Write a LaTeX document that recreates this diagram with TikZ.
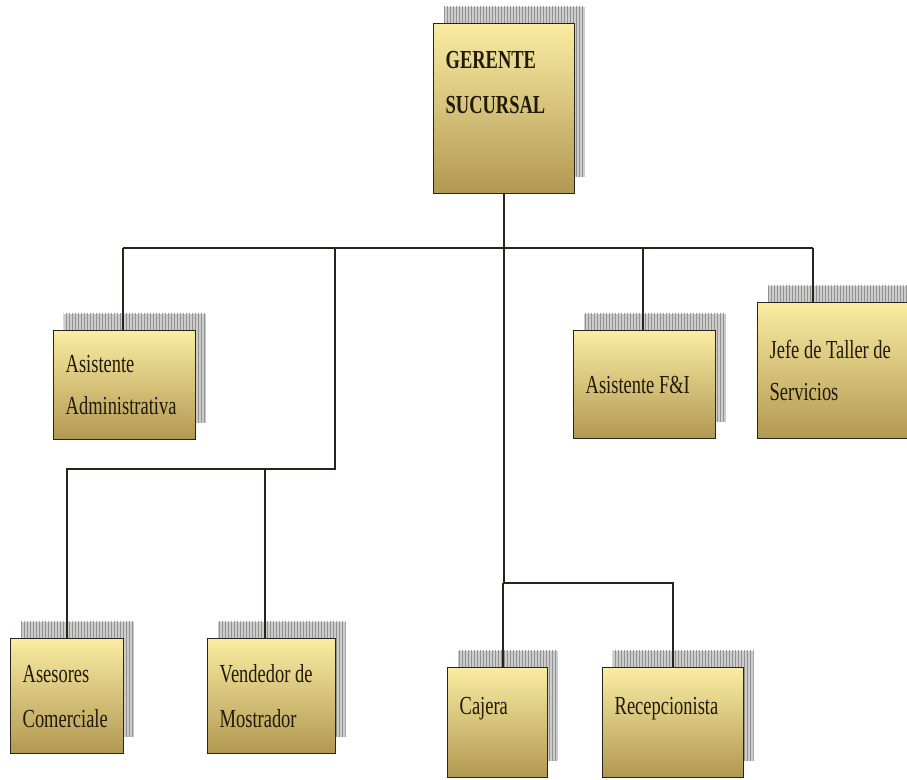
\documentclass[tikz,border=0pt]{standalone}
\usepackage{fontspec}
\setmainfont{Liberation Serif}[FakeStretch=0.71]
\usetikzlibrary{shadows,patterns}
\definecolor{boxtop}{RGB}{250,236,162}
\definecolor{boxbot}{RGB}{178,152,82}
\definecolor{boxline}{RGB}{40,36,24}
\definecolor{ink}{RGB}{32,26,6}
\newcommand{\boxfont}[1]{\fontsize{26}{#1}\selectfont\fontdimen2\font=4.6pt\relax}
\tikzset{
  orgbox/.style={draw=boxline, line width=1.4pt, top color=boxtop, bottom color=boxbot,
    anchor=north west, align=flush left, inner xsep=12pt, inner ysep=0pt, text=ink,
    font=\boxfont{42},
    general shadow={shadow xshift=10pt, shadow yshift=17pt, fill=gray!40},
    general shadow={shadow xshift=10pt, shadow yshift=17pt, pattern=vertical lines, pattern color=gray!85}},
  link/.style={line width=1.5pt, draw=boxline}
}
\begin{document}
\begin{tikzpicture}[x=1pt, y=-1pt]
  \useasboundingbox (0,0) rectangle (907,779);
  % boxes
  \node[orgbox, text width=117pt, minimum height=170pt, text depth=98pt, font=\bfseries\boxfont{45}] (ger) at (433,23) {GERENTE\\SUCURSAL};
  \node[orgbox, text width=118pt, minimum height=109pt] (asad) at (53,330) {Asistente\\Administrativa};
  \node[orgbox, text width=118pt, minimum height=108pt] (fyi) at (573,330) {Asistente F\&I};
  \node[orgbox, text width=128pt, minimum height=136pt] (jefe) at (757,302) {Jefe de Taller de\\Servicios};
  \node[orgbox, text width=89pt, minimum height=115pt, font=\boxfont{45}] (ases) at (10,638) {Asesores\\Comerciale};
  \node[orgbox, text width=104pt, minimum height=115pt, font=\boxfont{45}] (vend) at (207,638) {Vendedor de\\Mostrador};
  \node[orgbox, text width=76pt, minimum height=110pt, text depth=34pt] (caja) at (447,667) {Cajera};
  \node[orgbox, text width=117pt, minimum height=110pt, text depth=34pt] (recep) at (602,667) {Recepcionista};
  % junctions
  \coordinate (busL) at (123,248);
  \coordinate (busR) at (813,248);
  \coordinate (fyiJ) at (643,248);
  \coordinate (salesJ) at (335,469);
  \coordinate (vendJ) at (265,469);
  \coordinate (cashJ) at (503,583);
  % connectors
  \draw[link] (busL) -- (busR);
  \draw[link] (ger.south) -- (ger.south |- cashJ);
  \draw[link] (busL) -- (busL |- asad.north);
  \draw[link] (fyiJ) -- (fyiJ |- fyi.north);
  \draw[link] (busR) -- (busR |- jefe.north);
  \draw[link] (salesJ |- busL) -- (salesJ) -- (ases.north |- salesJ) -- (ases.north);
  \draw[link] (vendJ) -- (vendJ |- vend.north);
  \draw[link] (cashJ) -- (cashJ |- caja.north);
  \draw[link] (cashJ) -- (recep.north |- cashJ) -- (recep.north);
\end{tikzpicture}
\end{document}
